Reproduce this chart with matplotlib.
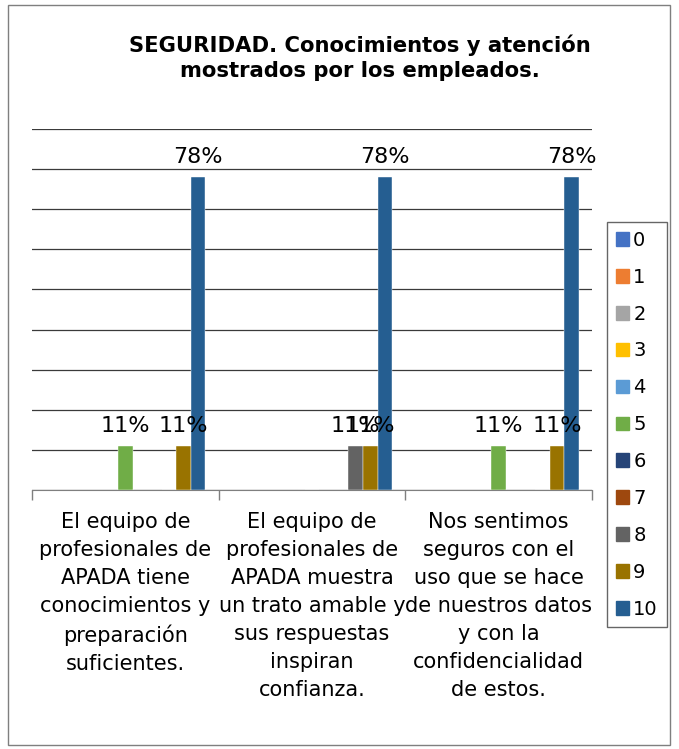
import matplotlib.pyplot as plt
import matplotlib.patches as mpatches
import numpy as np

plt.rcParams['font.family'] = ['DejaVu Sans']

# series 0..10, share of answers per question
series_names = ['0', '1', '2', '3', '4', '5', '6', '7', '8', '9', '10']
categories = [
    "El equipo de\nprofesionales de\nAPADA tiene\nconocimientos y\npreparación\nsuficientes.",
    "El equipo de\nprofesionales de\nAPADA muestra\nun trato amable y\nsus respuestas\ninspiran\nconfianza.",
    "Nos sentimos\nseguros con el\nuso que se hace\nde nuestros datos\ny con la\nconfidencialidad\nde estos.",
]
values = {
    '5': [0.11, 0.0, 0.11],
    '8': [0.0, 0.11, 0.0],
    '9': [0.11, 0.11, 0.11],
    '10': [0.78, 0.78, 0.78],
}
colors = ['#4472C4', '#ED7D31', '#A5A5A5', '#FFC000', '#5B9BD5', '#70AD47',
          '#264478', '#9E480E', '#636363', '#997300', '#255E91']
title = "SEGURIDAD. Conocimientos y atención\nmostrados por los empleados."

fig = plt.figure(figsize=(6.79, 7.49), dpi=100)
# outer frame
fig.patches.append(mpatches.Rectangle((8 / 679, 4 / 749), 662 / 679, 740 / 749,
                                      transform=fig.transFigure, fill=False,
                                      edgecolor='#7f7f7f', linewidth=1.0))

ax = fig.add_axes([32 / 679, (749 - 490) / 749, 560 / 679, 361 / 749])

x = np.arange(len(categories))
w = 0.078
for k, name in enumerate(series_names):
    vals = values.get(name)
    if vals is None:
        continue
    offs = (k - 5) * w
    bars = ax.bar(x + offs, vals, width=w, color=colors[k], edgecolor='white',
                  linewidth=0.3, zorder=3)
    for b, v in zip(bars, vals):
        if v > 0:
            ax.annotate(f"{v:.0%}", (b.get_x() + b.get_width() / 2, v),
                        xytext=(0, 10), textcoords='offset points',
                        ha='center', va='baseline', fontsize=16, zorder=4)

ax.set_xlim(-0.5, 2.5)
ax.set_ylim(0, 0.9)
ax.set_yticks(np.arange(0, 0.91, 0.1))
ax.yaxis.grid(True, color='#3a3a3a', linewidth=0.9)
ax.set_axisbelow(True)
ax.tick_params(axis='y', left=False, labelleft=False)
ax.set_xticks([-0.5, 0.5, 1.5, 2.5])
ax.set_xticklabels([])
ax.tick_params(axis='x', direction='out', length=7, color='#7f7f7f', width=1)
for s in ['left', 'right', 'top']:
    ax.spines[s].set_visible(False)
ax.spines['bottom'].set_color('#7f7f7f')

for i, lab in enumerate(categories):
    ax.text(i, -0.055, lab, ha='center', va='top', fontsize=15,
            linespacing=1.5)

fig.text(360 / 679, 1 - 58 / 749, title, ha='center', va='center',
         fontsize=15.2, fontweight='bold', linespacing=1.3)

handles = [mpatches.Patch(color=c) for c in colors]
leg = fig.legend(handles, series_names, loc='upper left',
                 bbox_to_anchor=(607 / 679, 1 - 222 / 749), fontsize=14,
                 frameon=True, fancybox=False, edgecolor='#404040',
                 handlelength=0.7, handleheight=0.7, handletextpad=0.2,
                 labelspacing=0.92, borderpad=0.45, borderaxespad=0)
leg.get_frame().set_linewidth(1.0)

fig.savefig('out.png', dpi=100)
